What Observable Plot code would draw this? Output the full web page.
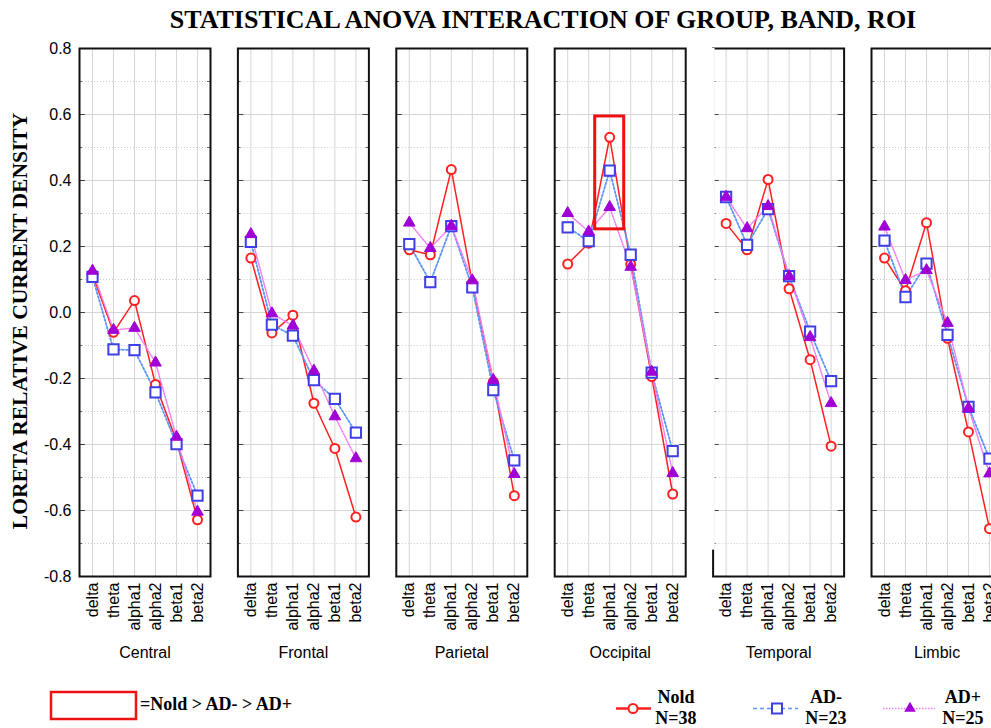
<!DOCTYPE html>
<html><head><meta charset="utf-8">
<script src="https://cdn.jsdelivr.net/npm/d3@7"></script>
<script src="https://cdn.jsdelivr.net/npm/@observablehq/plot@0.6"></script>
<style>
html,body{margin:0;padding:0;background:#fff;overflow:hidden;width:991px;height:728px}
#wrap{position:relative;width:991px;height:728px;overflow:hidden}
#chart{position:absolute;left:0;top:0;width:1012px}
#chart svg{max-width:none !important}
#overlay{position:absolute;left:0;top:0}
</style></head><body><div id="wrap"><div id="chart"></div><svg id="overlay" width="991" height="728"></svg></div>
<script>
const title = "STATISTICAL ANOVA INTERACTION OF GROUP, BAND, ROI";
const yLabel = "LORETA RELATIVE CURRENT DENSITY";
const regions = ["Central", "Frontal", "Parietal", "Occipital", "Temporal", "Limbic"];
const bands = ["delta", "theta", "alpha1", "alpha2", "beta1", "beta2"];
const groups = ["Nold", "AD-", "AD+"];
const groupN = ["N=38", "N=23", "N=25"];
const highlightText = "=Nold > AD- > AD+";
const yTicks = [-0.8, -0.6, -0.4, -0.2, 0, 0.2, 0.4, 0.6, 0.8];
const yMinorTicks = [-0.7, -0.5, -0.3, -0.1, 0.1, 0.3, 0.5, 0.7];

// values per region (rows) and band (columns)
const nold = [
  [0.115, -0.06, 0.036, -0.218, -0.389, -0.628],
  [0.165, -0.062, -0.008, -0.275, -0.412, -0.62],
  [0.19, 0.175, 0.433, 0.09, -0.21, -0.555],
  [0.147, 0.21, 0.531, 0.146, -0.194, -0.55],
  [0.27, 0.19, 0.403, 0.072, -0.143, -0.405],
  [0.165, 0.066, 0.272, -0.078, -0.362, -0.655]
];
const adMinus = [
  [0.108, -0.112, -0.114, -0.242, -0.399, -0.555],
  [0.214, -0.037, -0.07, -0.205, -0.262, -0.364],
  [0.207, 0.092, 0.262, 0.076, -0.235, -0.448],
  [0.258, 0.216, 0.43, 0.175, -0.182, -0.42],
  [0.35, 0.205, 0.313, 0.11, -0.058, -0.208],
  [0.218, 0.047, 0.148, -0.068, -0.286, -0.443]
];
const adPlus = [
  [0.126, -0.053, -0.047, -0.152, -0.377, -0.604],
  [0.237, -0.003, -0.04, -0.177, -0.315, -0.442],
  [0.272, 0.195, 0.262, 0.097, -0.205, -0.49],
  [0.301, 0.245, 0.319, 0.138, -0.18, -0.487],
  [0.35, 0.255, 0.322, 0.11, -0.075, -0.275],
  [0.26, 0.098, 0.128, -0.032, -0.29, -0.488]
];
const highlight = [{region: "Occipital", band: "alpha1", y1: 0.252, y2: 0.594}];
const missingLeftBorder = [{region: "Temporal", y1: -0.72, y2: 0.8}];

const rows = [];
[nold, adMinus, adPlus].forEach((arr, gi) => arr.forEach((vals, ri) => vals.forEach((v, bi) =>
  rows.push({group: groups[gi], region: regions[ri], band: bands[bi], value: v}))));
const byGroup = g => rows.filter(d => d.group === g);

const RED = "#ff1f1f", BLUE = "#3f3fe6", BLUE_LINE = "#5b95f7", PURPLE = "#a000d6", PINK = "#f27cf2";
const enc = {fx: "region", x: "band", y: "value"};

const plot = Plot.plot({
  width: 1012, height: 728,
  marginLeft: 79, marginRight: 10, marginTop: 48, marginBottom: 152,
  style: {fontFamily: "'Liberation Sans', Arial, sans-serif", fontSize: "16px", background: "transparent", overflow: "visible"},
  fx: {domain: regions, paddingInner: 0.173, paddingOuter: 0, round: false, label: null},
  x: {type: "point", domain: bands, padding: 0.5, label: null},
  y: {domain: [-0.8, 0.8], label: null},
  marks: [
    Plot.gridY(yMinorTicks, {stroke: "#cccccc", strokeOpacity: 1, strokeDasharray: "1,2"}),
    Plot.gridY(yTicks, {stroke: "#d6d6d6", strokeOpacity: 1}),
    Plot.gridX(bands, {stroke: "#d6d6d6", strokeOpacity: 1}),
    Plot.tickY(yTicks, {y: d => d, insetRight: 125, stroke: "#444"}),
    Plot.tickY(yTicks, {y: d => d, insetLeft: 125, stroke: "#444"}),
    Plot.tickY(yMinorTicks, {y: d => d, insetRight: 128, stroke: "#666"}),
    Plot.tickY(yMinorTicks, {y: d => d, insetLeft: 128, stroke: "#666"}),
    Plot.frame({stroke: "#111", strokeWidth: 2}),
    Plot.rect(missingLeftBorder, {fx: "region", y1: "y1", y2: "y2", insetLeft: -2, insetRight: 129, fill: "white"}),
    Plot.axisY(yTicks, {anchor: "left", tickSize: 0, tickPadding: 8, tickFormat: d => d.toFixed(1), fontSize: 16}),
    Plot.axisX({tickRotate: -90, tickSize: 0, tickPadding: 6, label: null, fontSize: 16}),
    Plot.axisFx({anchor: "bottom", tickSize: 0, tickPadding: 70, label: null, fontSize: 16}),
    Plot.line(byGroup("Nold"), {...enc, stroke: RED, strokeWidth: 1.5}),
    Plot.line(byGroup("AD-"), {...enc, stroke: BLUE_LINE, strokeWidth: 1.8, strokeDasharray: "2,2"}),
    Plot.line(byGroup("AD+"), {...enc, stroke: PINK, strokeWidth: 1.5, strokeDasharray: "1.5,1.5"}),
    Plot.dot(byGroup("Nold"), {...enc, r: 4.5, stroke: RED, strokeWidth: 2, fill: "white"}),
    Plot.dot(byGroup("AD-"), {...enc, symbol: "square", r: 5.8, stroke: BLUE, strokeWidth: 2, fill: "white"}),
    Plot.dot(byGroup("AD+"), {...enc, symbol: "triangle", r: 4.3, fill: PURPLE, stroke: PURPLE, strokeWidth: 1}),
    Plot.rect(highlight, {fx: "region", x1: "band", x2: "band", y1: "y1", y2: "y2", insetLeft: -14.5, insetRight: -14.5, stroke: "#ee1111", strokeWidth: 3, fill: "none"})
  ]
});
document.getElementById("chart").append(plot);

// title, y label, legends
const svg = d3.select("#overlay");
const serif = "'Liberation Serif', 'Times New Roman', serif";
svg.append("text").attr("x", 543).attr("y", 28).attr("text-anchor", "middle")
  .attr("font-family", serif).attr("font-weight", "bold").attr("font-size", 26).text(title);
svg.append("text").attr("transform", "translate(27,321) rotate(-90)").attr("text-anchor", "middle")
  .attr("font-family", serif).attr("font-weight", "bold").attr("font-size", 21.5).text(yLabel);

svg.append("rect").attr("x", 51).attr("y", 692).attr("width", 85).attr("height", 27)
  .attr("fill", "none").attr("stroke", "#ee1111").attr("stroke-width", 2.5);
svg.append("text").attr("x", 140).attr("y", 710).attr("font-family", serif).attr("font-weight", "bold")
  .attr("font-size", 18).text(highlightText);

const legendItems = [
  {x0: 616, x1: 651, cx: 633, tx: 676, stroke: RED, dash: null, sw: 2.5},
  {x0: 753, x1: 798, cx: 777, tx: 826, stroke: BLUE_LINE, dash: "4,3", sw: 1.5},
  {x0: 883, x1: 935, cx: 910, tx: 963, stroke: PINK, dash: "1.5,1.5", sw: 1.5}
];
legendItems.forEach((it, i) => {
  svg.append("line").attr("x1", it.x0).attr("x2", it.x1).attr("y1", 708.5).attr("y2", 708.5)
    .attr("stroke", it.stroke).attr("stroke-width", it.sw).attr("stroke-dasharray", it.dash);
  if (i === 0) svg.append("circle").attr("cx", it.cx).attr("cy", 708.5).attr("r", 4.5)
    .attr("fill", "white").attr("stroke", RED).attr("stroke-width", 2);
  if (i === 1) svg.append("rect").attr("x", it.cx - 5).attr("y", 703.5).attr("width", 10).attr("height", 10)
    .attr("fill", "white").attr("stroke", BLUE).attr("stroke-width", 2);
  if (i === 2) svg.append("path").attr("transform", `translate(${it.cx},708.5)`)
    .attr("d", d3.symbol(d3.symbolTriangle, 58)()).attr("fill", PURPLE);
  svg.append("text").attr("x", it.tx).attr("y", 703).attr("text-anchor", "middle").attr("font-family", serif)
    .attr("font-weight", "bold").attr("font-size", 18).text(groups[i]);
  svg.append("text").attr("x", it.tx).attr("y", 724).attr("text-anchor", "middle").attr("font-family", serif)
    .attr("font-weight", "bold").attr("font-size", 18).text(groupN[i]);
});
</script></body></html>
